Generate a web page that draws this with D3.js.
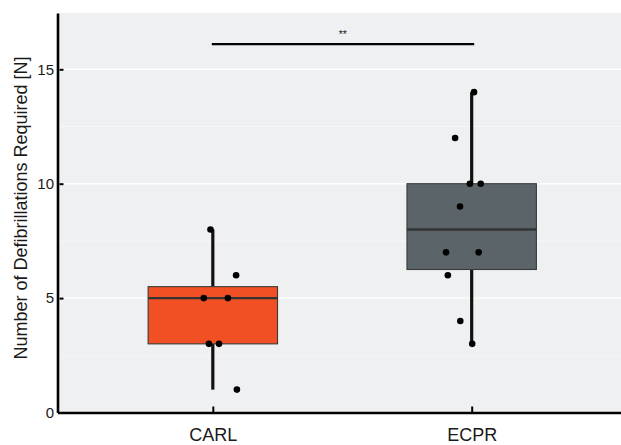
<!DOCTYPE html>
<html>
<head>
<meta charset="utf-8">
<script src="https://cdn.jsdelivr.net/npm/d3@7"></script>
<style>
  html, body { margin: 0; padding: 0; background: #fff; }
  svg { display: block; font-family: "Liberation Sans", Arial, Helvetica, sans-serif; }
</style>
</head>
<body>
<svg id="chart" width="621" height="445"></svg>
<script>
const groups = ["CARL", "ECPR"];
const carlValues = [8, 5, 5, 3, 3, 6, 1];
const carlJitter = [-0.009, -0.035, 0.058, -0.015, 0.024, 0.090, 0.093];
const ecprValues = [14, 12, 10, 10, 9, 7, 7, 6, 4, 3];
const ecprJitter = [0.009, -0.064, -0.007, 0.035, -0.045, -0.099, 0.027, -0.092, -0.044, 0.002];
const fills = ["#F15024", "#5B6469"];
const yTicks = [0, 5, 10, 15];
const yMinor = [2.5, 7.5, 12.5];
const sigLabel = "**";
const sigLevel = 16.1;

const margin = {top: 13, right: -6, bottom: 32.5, left: 57.5};
const W = 621, H = 445;
const width = W - margin.left - margin.right;
const height = H - margin.top - margin.bottom;

const svg = d3.select("#chart");
const g = svg.append("g").attr("transform", `translate(${margin.left},${margin.top})`);

// discrete x positions 1..n with ggplot-like 0.6 expansion
const x = d3.scaleLinear().domain([0.4, groups.length + 0.6]).range([0, width]);
const y = d3.scaleLinear().domain([0, 17.46]).range([height, 0]);

// panel
g.append("rect")
  .attr("width", width).attr("height", height)
  .attr("fill", "#EFF0F2");

g.append("g").selectAll("line.minor")
  .data(yMinor).join("line")
  .attr("x1", 0).attr("x2", width)
  .attr("y1", d => y(d)).attr("y2", d => y(d))
  .attr("stroke", "#fff").attr("stroke-width", 0.6).attr("opacity", 0.8);

g.append("g").selectAll("line.major")
  .data(yTicks.filter(d => d > 0)).join("line")
  .attr("x1", 0).attr("x2", width)
  .attr("y1", d => y(d)).attr("y2", d => y(d))
  .attr("stroke", "#fff").attr("stroke-width", 1.4);

// stats per group
const data = [
  {name: groups[0], values: carlValues, jitter: carlJitter, pos: 1, fill: fills[0]},
  {name: groups[1], values: ecprValues, jitter: ecprJitter, pos: 2, fill: fills[1]}
];
data.forEach(d => {
  const s = d.values.slice().sort(d3.ascending);
  d.q1 = d3.quantile(s, 0.25);
  d.med = d3.quantile(s, 0.5);
  d.q3 = d3.quantile(s, 0.75);
  const iqr = d.q3 - d.q1;
  d.lo = d3.min(s.filter(v => v >= d.q1 - 1.5 * iqr));
  d.hi = d3.max(s.filter(v => v <= d.q3 + 1.5 * iqr));
});

const boxHalf = 0.25;
const groupsG = g.append("g").selectAll("g").data(data).join("g");

// whiskers
groupsG.append("line")
  .attr("x1", d => x(d.pos)).attr("x2", d => x(d.pos))
  .attr("y1", d => y(d.hi)).attr("y2", d => y(d.q3))
  .attr("stroke", "#111").attr("stroke-width", 3.2);
groupsG.append("line")
  .attr("x1", d => x(d.pos)).attr("x2", d => x(d.pos))
  .attr("y1", d => y(d.q1)).attr("y2", d => y(d.lo))
  .attr("stroke", "#111").attr("stroke-width", 3.2);

// boxes
groupsG.append("rect")
  .attr("x", d => x(d.pos - boxHalf))
  .attr("width", d => x(d.pos + boxHalf) - x(d.pos - boxHalf))
  .attr("y", d => y(d.q3))
  .attr("height", d => y(d.q1) - y(d.q3))
  .attr("fill", d => d.fill)
  .attr("stroke", "#3a3a3a").attr("stroke-width", 1.1);

// medians
groupsG.append("line")
  .attr("x1", d => x(d.pos - boxHalf)).attr("x2", d => x(d.pos + boxHalf))
  .attr("y1", d => y(d.med)).attr("y2", d => y(d.med))
  .attr("stroke", "#333").attr("stroke-width", 2.4);

// jittered points
groupsG.selectAll("circle")
  .data(d => d.values.map((v, i) => ({v, xp: d.pos + d.jitter[i]})))
  .join("circle")
  .attr("cx", p => x(p.xp))
  .attr("cy", p => y(p.v))
  .attr("r", 3.3)
  .attr("fill", "#000");

// significance bar
g.append("line")
  .attr("x1", x(1) - 1).attr("x2", x(2) + 2.5)
  .attr("y1", y(sigLevel)).attr("y2", y(sigLevel))
  .attr("stroke", "#000").attr("stroke-width", 2.2);
g.append("text")
  .attr("x", (x(1) + x(2)) / 2 + 0.5)
  .attr("y", y(sigLevel) - 6.5)
  .attr("text-anchor", "middle")
  .attr("font-size", 10.5)
  .attr("fill", "#222")
  .text(sigLabel);

// axes: ticks point inwards
const yAxis = g.append("g")
  .call(d3.axisLeft(y).tickValues(yTicks).tickSizeInner(-6).tickSizeOuter(0).tickPadding(3.5));
yAxis.select(".domain").attr("stroke", "#000").attr("stroke-width", 2.6);
yAxis.selectAll(".tick line").attr("stroke", "#000").attr("stroke-width", 2).attr("x1", 2);
yAxis.selectAll(".tick text").attr("font-size", 15).attr("fill", "#1a1a1a")
  .attr("font-family", "Liberation Sans, Arial, sans-serif").attr("x", -3.5);

const xAxis = g.append("g")
  .attr("transform", `translate(0,${height})`)
  .call(d3.axisBottom(x).tickValues([1, 2]).tickFormat((d, i) => groups[i])
    .tickSizeInner(-6).tickSizeOuter(0).tickPadding(12));
xAxis.select(".domain").attr("stroke", "#000").attr("stroke-width", 2.6);
xAxis.selectAll(".tick line").attr("stroke", "#000").attr("stroke-width", 2);
xAxis.selectAll(".tick text").attr("font-size", 18).attr("fill", "#1a1a1a")
  .attr("font-family", "Liberation Sans, Arial, sans-serif")
  .attr("dy", 0).attr("y", 28.8);

// y title
svg.append("text")
  .attr("transform", `translate(27,208) rotate(-90)`)
  .attr("text-anchor", "middle")
  .attr("font-size", 18)
  .attr("fill", "#1a1a1a")
  .text("Number of Defibrillations Required [N]");
</script>
</body>
</html>
